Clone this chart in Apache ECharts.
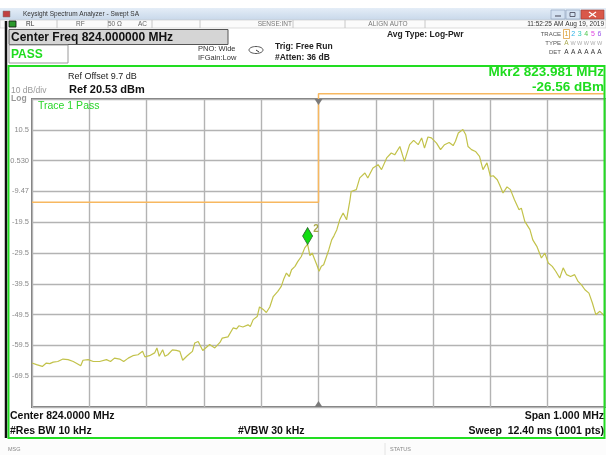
<!DOCTYPE html>
<html>
<head>
<meta charset="utf-8">
<script src="https://cdn.jsdelivr.net/npm/echarts@6/dist/echarts.min.js"></script>
<style>
html,body{margin:0;padding:0;background:#fff;}
#chart{width:606px;height:455px;}
</style>
</head>
<body>
<div id="chart"></div>
<script>
// Swept SA trace, 823.5 .. 824.5 MHz
const freqMHz = [
  823.500, 823.508, 823.518, 823.525, 823.531, 823.537, 823.545, 823.554, 823.563, 823.572,
  823.579, 823.585, 823.589, 823.598, 823.607, 823.618, 823.630, 823.637, 823.644, 823.653,
  823.660, 823.668, 823.676, 823.685, 823.693, 823.697, 823.705, 823.714, 823.718, 823.722,
  823.728, 823.732, 823.737, 823.745, 823.752, 823.758, 823.763, 823.770, 823.775, 823.780,
  823.784, 823.790, 823.798, 823.810, 823.819, 823.828, 823.832, 823.842, 823.851, 823.857,
  823.861, 823.868, 823.877, 823.881, 823.886, 823.893, 823.897, 823.903, 823.909, 823.915,
  823.921, 823.929, 823.935, 823.939, 823.944, 823.949, 823.953, 823.959, 823.964, 823.970,
  823.976, 823.981, 823.985, 823.989, 823.993, 823.997, 824.001, 824.005, 824.009, 824.014,
  824.018, 824.023, 824.027, 824.032, 824.037, 824.043, 824.049, 824.052, 824.055, 824.057,
  824.066, 824.072, 824.081, 824.086, 824.095, 824.104, 824.110, 824.119, 824.127, 824.133,
  824.142, 824.150, 824.159, 824.166, 824.174, 824.180, 824.185, 824.191, 824.197, 824.206,
  824.213, 824.220, 824.228, 824.235, 824.239, 824.244, 824.252, 824.257, 824.261, 824.267,
  824.274, 824.281, 824.287, 824.294, 824.300, 824.305, 824.312, 824.316, 824.322, 824.329,
  824.335, 824.342, 824.350, 824.354, 824.360, 824.369, 824.374, 824.381, 824.389, 824.395,
  824.401, 824.408, 824.414, 824.421, 824.427, 824.433, 824.440, 824.447, 824.453, 824.459,
  824.465, 824.472, 824.478, 824.484, 824.491, 824.497, 824.500
];
const traceDbm = [
  -65.2, -65.7, -66.3, -65.2, -65.4, -64.9, -64.7, -63.9, -64.1, -64.7,
  -65.4, -66.1, -64.3, -64.1, -64.7, -64.7, -64.1, -64.7, -63.6, -63.9,
  -64.7, -63.6, -62.8, -62.5, -61.4, -63.2, -62.8, -61.9, -60.3, -63.0,
  -60.9, -63.0, -62.5, -60.9, -61.1, -61.4, -64.3, -63.0, -62.2, -61.4,
  -58.7, -58.2, -61.1, -59.2, -60.3, -58.5, -57.1, -56.7, -53.8, -54.1,
  -53.1, -53.5, -52.8, -53.3, -51.1, -50.1, -47.0, -47.7, -48.8, -47.0,
  -43.6, -41.9, -40.3, -38.1, -36.0, -37.1, -34.9, -33.8, -32.2, -30.6,
  -27.8, -26.56, -30.3, -29.5, -31.4, -33.3, -35.4, -33.8, -33.3, -30.6,
  -28.4, -25.2, -23.9, -21.9, -18.7, -16.5, -18.7, -15.4, -12.2, -9.5,
  -8.9, -5.1, -3.5, -5.1, -1.9, -0.8, -2.4, 1.4, 3.0, 2.4,
  5.1, 0.3, 5.7, 7.1, 5.7, 7.9, 4.6, 8.2, 7.9, 6.2,
  4.1, 5.7, 6.4, 5.4, 6.8, 9.5, 10.6, 8.9, 5.1, 4.1,
  3.5, 1.9, -2.4, -0.2, -4.6, -4.4, -5.7, -7.3, -10.0, -8.0,
  -8.9, -12.2, -15.4, -14.9, -19.2, -21.9, -25.2, -27.3, -31.1, -29.5,
  -32.7, -33.8, -35.4, -37.6, -34.3, -36.5, -37.1, -36.5, -38.7, -39.8,
  -41.4, -42.5, -45.7, -49.5, -48.4, -49.5, -50.0
];

// Limit line (dBm) and its break points
const limitFreq = [823.5, 824.0, 824.0, 824.5];
const limitDbm = [-13, -13, 22.2, 22.2];

// Marker 2
const markerFreq = 823.981;
const markerDbm = -26.56;

// Display scale
const refLevel = 20.53;
const dbPerDiv = 10;
const startFreq = 823.5;
const stopFreq = 824.5;
const centerFreq = 824.0;
const yTickLabels = ['10.5', '0.530', '-9.47', '-19.5', '-29.5', '-39.5', '-49.5', '-59.5', '-69.5'];

const bottomLevel = refLevel - 10 * dbPerDiv;
const traceData = freqMHz.map((f, i) => [f, traceDbm[i]]);
const limitData = limitFreq.map((f, i) => [f, limitDbm[i]]);

const FONT = 'Liberation Sans, Arial, sans-serif';
const GREEN = '#1fdc1f';

function txt(text, x, y, size, color, opts) {
  opts = opts || {};
  return {
    type: 'text', silent: true, z: 10,
    style: {
      text: text, x: x, y: y,
      font: (opts.bold ? 'bold ' : '') + size + 'px ' + FONT,
      fill: color,
      textAlign: opts.align || 'left',
      textVerticalAlign: 'middle'
    }
  };
}
function rect(x, y, w, h, fill, stroke, lw, z) {
  return {
    type: 'rect', silent: true, z: z || 5,
    shape: { x: x, y: y, width: w, height: h },
    style: { fill: fill, stroke: stroke || null, lineWidth: lw || 1 }
  };
}
function line(x1, y1, x2, y2, stroke, lw, z) {
  return {
    type: 'line', silent: true, z: z || 6,
    shape: { x1: x1, y1: y1, x2: x2, y2: y2 },
    style: { stroke: stroke, lineWidth: lw || 1 }
  };
}

const graphics = [];
// window title bar
graphics.push(rect(0, 8, 606, 12, new echarts.graphic.LinearGradient(0, 0, 0, 1, [
  { offset: 0, color: '#e4edf7' }, { offset: 1, color: '#c8d8ea' }]), null, 1, 4));
graphics.push(rect(3, 11, 7, 6, '#c04040', '#777', 0.5));
graphics.push(txt('Keysight Spectrum Analyzer - Swept SA', 23, 14.5, 6.5, '#333'));
graphics.push(rect(551, 10, 14, 9, '#d4e2f2', '#8aa0bb', 0.6));
graphics.push(rect(566, 10, 14, 9, '#d4e2f2', '#8aa0bb', 0.6));
graphics.push(rect(581, 10, 23, 9, '#d9584a', '#9a3a30', 0.6));
graphics.push(line(555, 16, 561, 16, '#445', 1, 7));
graphics.push(rect(570, 12.5, 5, 4, null, '#445', 0.8, 7));
graphics.push(line(589, 12, 596, 17, '#fff', 1.2, 7));
graphics.push(line(596, 12, 589, 17, '#fff', 1.2, 7));

// status row
graphics.push(rect(0, 20, 606, 8, '#fbfbfb', '#c8c8c8', 0.6, 4));
[57, 108, 152, 200, 293, 345, 425].forEach(x => graphics.push(line(x, 20, x, 28, '#bdbdbd', 0.8)));
graphics.push(rect(9, 21, 7, 6, '#2c9a2c', '#111', 0.8));
graphics.push(txt('RL', 26, 24.5, 6.5, '#333'));
graphics.push(txt('RF', 76, 24.5, 6.5, '#666'));
graphics.push(txt('50 Ω', 108, 24.5, 6.5, '#666'));
graphics.push(txt('AC', 138, 24.5, 6.5, '#666'));
graphics.push(txt('SENSE:INT', 292, 24.5, 6.5, '#777', { align: 'right' }));
graphics.push(txt('ALIGN AUTO', 388, 24.5, 6.5, '#777', { align: 'center' }));
graphics.push(txt('11:52:25 AM Aug 19, 2019', 604, 24.5, 6.5, '#333', { align: 'right' }));

// left black edge
graphics.push(line(6, 21, 6, 438, '#111', 2.5));

// header boxes
graphics.push(rect(9, 29.5, 219, 15, '#d5d5d5', '#555', 1));
graphics.push(txt('Center Freq 824.000000 MHz', 11, 37.5, 12, '#111', { bold: true }));
graphics.push(rect(9, 45, 59, 18, '#fff', '#9a9a9a', 1));
graphics.push(txt('PASS', 11, 54.5, 12, GREEN, { bold: true }));
graphics.push(txt('PNO: Wide', 198, 49, 7.5, '#333'));
graphics.push(txt('IFGain:Low', 198, 57.5, 7.5, '#333'));
graphics.push({ type: 'ellipse', silent: true, z: 6, shape: { cx: 256, cy: 50, rx: 7, ry: 3.5 }, style: { fill: null, stroke: '#555', lineWidth: 1 } });
graphics.push(line(256, 50, 259, 52, '#333', 1, 7));
graphics.push(txt('Trig: Free Run', 275, 47, 8.5, '#222', { bold: true }));
graphics.push(txt('#Atten: 36 dB', 275, 57.5, 8.5, '#222', { bold: true }));
graphics.push(txt('Avg Type: Log-Pwr', 387, 35, 8.5, '#222', { bold: true }));
graphics.push(txt('TRACE', 561, 34, 6, '#555', { align: 'right' }));
graphics.push(txt('TYPE', 561, 43, 6, '#555', { align: 'right' }));
graphics.push(txt('DET', 561, 52, 6, '#555', { align: 'right' }));
const traceNumColors = ['#d89a20', '#2ab0e8', '#30c8b8', '#4cc84c', '#e040e0', '#9b55e8'];
graphics.push(rect(563.5, 29.5, 6, 9, null, '#e0a040', 0.8));
traceNumColors.forEach((c, i) => {
  graphics.push(txt(String(i + 1), 566.5 + i * 6.6, 34, 7, c, { align: 'center' }));
  graphics.push(txt(i === 0 ? 'A' : 'W', 566.5 + i * 6.6, 43, i === 0 ? 6.5 : 5.5, i === 0 ? '#a8a850' : '#aaa', { align: 'center' }));
  graphics.push(txt('A', 566.5 + i * 6.6, 52, 6.5, '#333', { align: 'center' }));
});

// green display frame
graphics.push(rect(8.5, 66, 596, 372, null, '#22dd22', 2, 8));

// annotations inside the frame
graphics.push(txt('Mkr2 823.981 MHz', 604, 72, 13.5, GREEN, { bold: true, align: 'right' }));
graphics.push(txt('-26.56 dBm', 604, 87, 13.5, GREEN, { bold: true, align: 'right' }));
graphics.push(txt('Ref Offset 9.7 dB', 68, 77, 9, '#222'));
graphics.push(txt('Ref 20.53 dBm', 69, 90, 11, '#111', { bold: true }));
graphics.push(txt('10 dB/div', 11, 91, 8.5, '#999'));
graphics.push(txt('Log', 11, 98.5, 8.5, '#999', { bold: true }));
graphics.push(txt('Trace 1 Pass', 38, 106, 10.5, '#2ad62a'));

// bottom annotations
graphics.push(txt('Center 824.0000 MHz', 10, 416, 10.5, '#111', { bold: true }));
graphics.push(txt('Span 1.000 MHz', 604, 416, 10.5, '#111', { bold: true, align: 'right' }));
graphics.push(txt('#Res BW 10 kHz', 10, 431, 10.5, '#111', { bold: true }));
graphics.push(txt('#VBW 30 kHz', 238, 431, 10.5, '#111', { bold: true }));
graphics.push(txt('Sweep  12.40 ms (1001 pts)', 604, 431, 10.5, '#111', { bold: true, align: 'right' }));

// message bar
graphics.push(rect(0, 440, 606, 15, '#fcfcfc', null, 1, 3));
graphics.push(line(385, 443, 385, 455, '#ddd', 0.8));
graphics.push(txt('MSG', 8, 449, 5.5, '#888'));
graphics.push(txt('STATUS', 390, 449, 5.5, '#888'));

const chart = echarts.init(document.getElementById('chart'), null, { renderer: 'canvas' });
chart.setOption({
  animation: false,
  backgroundColor: '#fff',
  grid: {
    left: 32, top: 99, width: 573, height: 308,
    show: true, backgroundColor: '#fff',
    borderColor: '#7a7a7a', borderWidth: 2
  },
  xAxis: {
    type: 'value', min: startFreq, max: stopFreq, interval: 0.1,
    axisLine: { show: false },
    axisTick: { show: false },
    axisLabel: { show: false },
    splitLine: { show: true, lineStyle: { color: '#b3b3b3', width: 1.4 } }
  },
  yAxis: {
    type: 'value', min: bottomLevel, max: refLevel, interval: dbPerDiv,
    axisLine: { show: false },
    axisTick: { show: false },
    axisLabel: {
      show: true, margin: 3, color: '#8a8a8a', fontSize: 7.5, fontFamily: FONT,
      formatter: function (v) {
        const i = Math.round((refLevel - v) / dbPerDiv) - 1;
        return (i >= 0 && i < yTickLabels.length) ? yTickLabels[i] : '';
      }
    },
    splitLine: { show: true, lineStyle: { color: '#b3b3b3', width: 1.4 } }
  },
  graphic: graphics,
  series: [
    {
      name: 'limit', type: 'line', data: limitData, clip: false,
      symbol: 'none', z: 3,
      lineStyle: { color: '#f7b860', width: 1.5 },
      markPoint: {
        silent: true, symbol: 'triangle',
        itemStyle: { color: '#7a7a7a' },
        label: { show: false },
        data: [
          { coord: [centerFreq, refLevel], symbolSize: [8, 6], symbolRotate: 180, symbolOffset: [0, 3] },
          { coord: [centerFreq, bottomLevel], symbolSize: [8, 6], symbolOffset: [0, -3] }
        ]
      }
    },
    {
      name: 'Trace 1', type: 'line', data: traceData,
      symbol: 'none', z: 4,
      lineStyle: { color: '#c2c24a', width: 1.2 },
      markPoint: {
        silent: true,
        data: [{
          coord: [markerFreq, markerDbm],
          symbol: 'diamond', symbolSize: [10, 17], symbolOffset: [0, -8],
          itemStyle: { color: '#11dd11', borderColor: '#2f6a2f', borderWidth: 0.8 },
          label: {
            show: true, formatter: '2', position: [11, -3],
            color: '#a8a848', fontSize: 10, fontWeight: 'bold', fontFamily: FONT
          }
        }]
      }
    }
  ]
});
</script>
</body>
</html>
